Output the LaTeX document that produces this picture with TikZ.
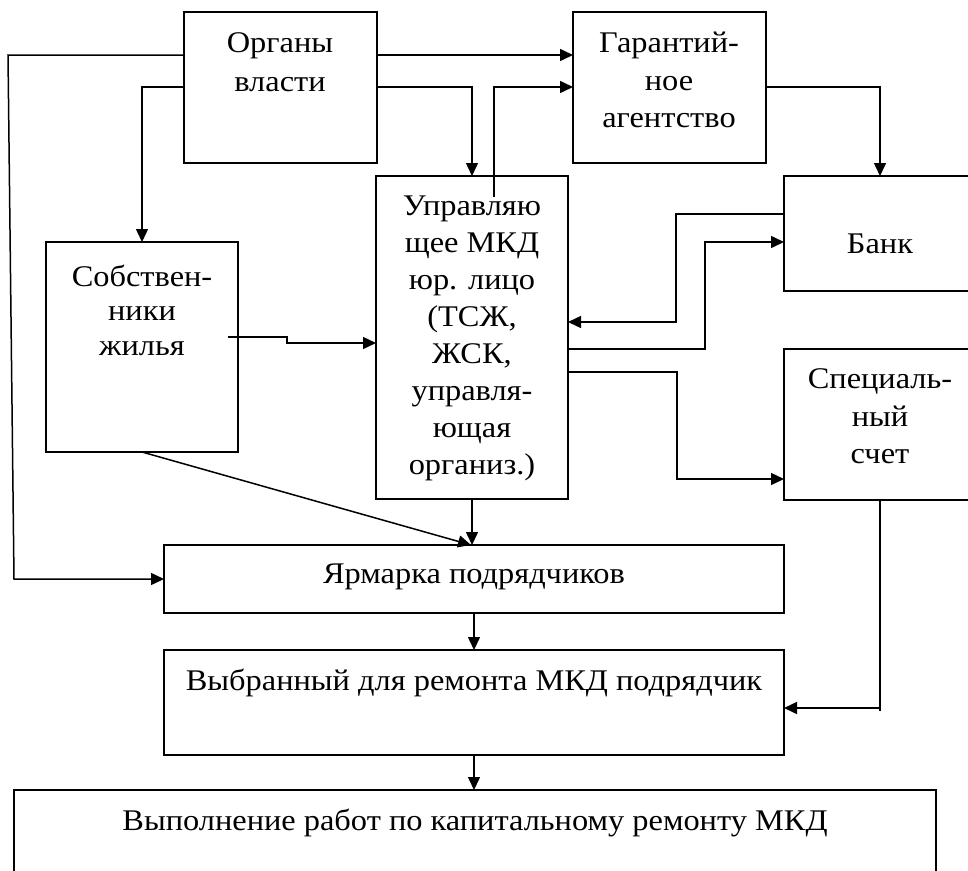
\documentclass[tikz,border=0pt]{standalone}
\usepackage{fontspec}
\setmainfont[FakeStretch=1.08]{Liberation Serif}
\usetikzlibrary{arrows.meta,calc}
\tikzset{
  box/.style={draw, line width=1.5pt, rectangle, inner sep=0pt, outer sep=0pt, anchor=north west},
  arr/.style={line width=1.5pt, -{Triangle[length=13pt,width=12pt]}},
  ln/.style={line width=1.5pt},
  txt/.style={anchor=base, inner sep=0pt, font=\fontsize{30}{37}\selectfont}
}
\begin{document}
\begin{tikzpicture}[x=1pt,y=-1pt]
\useasboundingbox (0,0) rectangle (968,870);
\clip (0,0) rectangle (968,870);
% boxes
\node[box, minimum width=193pt, minimum height=151pt] (org) at (184,12) {};
\node[box, minimum width=193pt, minimum height=151pt] (gar) at (573,12) {};
\node[box, minimum width=192pt, minimum height=323pt] (upr) at (376,176) {};
\node[box, minimum width=192pt, minimum height=210pt] (sob) at (46,242) {};
\node[box, minimum width=192pt, minimum height=115pt] (bank) at (784,176) {};
\node[box, minimum width=192pt, minimum height=151pt] (spec) at (784,349) {};
\node[box, minimum width=620pt, minimum height=68pt] (yar) at (164,545) {};
\node[box, minimum width=620pt, minimum height=105pt] (vyb) at (164,650) {};
\node[box, minimum width=922pt, minimum height=120pt] (vyp) at (14,790) {};
% texts
\node[txt] (org1) at (280,52) {Органы};
\node[txt] (org2) at (280,91) {власти};
\node[txt] (gar1) at (669,52) {Гарантий-};
\node[txt] (gar2) at (669,90) {ное};
\node[txt] (gar3) at (669,127) {агентство};
\node[txt] (upr1) at (472,215) {Управляю};
\node[txt] (upr2) at (472,252) {щее МКД};
\node[txt] (upr3) at (472,289) {юр. лицо};
\node[txt] (upr4) at (472,326) {(ТСЖ,};
\node[txt] (upr5) at (472,363) {ЖСК,};
\node[txt] (upr6) at (472,400) {управля-};
\node[txt] (upr7) at (472,437) {ющая};
\node[txt] (upr8) at (472,474) {организ.)};
\node[txt] (sob1) at (142,286) {Собствен-};
\node[txt] (sob2) at (142,320) {ники};
\node[txt] (sob3) at (142,355) {жилья};
\node[txt] (bank1) at (880,253) {Банк};
\node[txt] (spec1) at (880,388) {Специаль-};
\node[txt] (spec2) at (880,426) {ный};
\node[txt] (spec3) at (880,463) {счет};
\node[txt] (yar1) at (474,583) {Ярмарка подрядчиков};
\node[txt] (vyb1) at (474,690) {Выбранный для ремонта МКД подрядчик};
\node[txt] (vyp1) at (475,830) {Выполнение работ по капитальному ремонту МКД};
% connectors
\coordinate (lt) at (8,55);
\coordinate (lb) at (14,579);
\coordinate (sp) at ($(spec.south)+(0,208)$);
\draw[arr] ($(org.north east)+(0,43)$) -- ($(gar.north west)+(0,43)$);
\draw[arr] ($(org.north east)+(0,75)$) -| (upr.north);
\draw[arr] ($(org.north west)+(0,75)$) -| (sob.north);
\draw[arr] ($(org.north west)+(0,43)$) -- (lt) -- (lb) -- (yar.west);
\draw[arr] ($(upr.north west)+(118,21)$) |- ($(gar.north west)+(0,75)$);
\draw[arr] ($(gar.north east)+(0,75)$) -| (bank.north);
\draw[arr] ($(bank.north west)+(0,38)$) -- ++(-108,0) |- ($(upr.north east)+(0,146)$);
\draw[arr] ($(upr.north east)+(0,173)$) -- ++(137,0) |- ($(bank.north west)+(0,66)$);
\draw[arr] ($(upr.north east)+(0,196)$) -- ++(109,0) |- ($(spec.north west)+(0,130)$);
\draw[arr] ($(sob.north east)+(-10,95)$) -- ++(59,0) -- ++(0,6) -- ($(upr.north west)+(0,167)$);
\draw[arr] (sob.south) -- ($(yar.north)+(-3,0)$);
\draw[arr] (upr.south) -- (upr.south |- yar.north);
\draw[arr] (yar.south) -- (vyb.north);
\draw[arr] (vyb.south) -- (vyb.south |- vyp.north);
\draw[ln] (spec.south) -- ++(0,211);
\draw[arr] (sp) -- (sp -| vyb.east);
\end{tikzpicture}
\end{document}
